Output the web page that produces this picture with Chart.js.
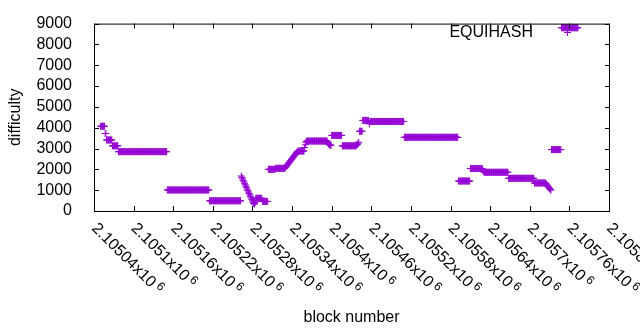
<!DOCTYPE html>
<html>
<head>
<meta charset="utf-8">
<script src="https://cdn.jsdelivr.net/npm/chart.js@4"></script>
<style>
  html, body { margin: 0; padding: 0; background: #fff; }
  canvas { display: block; }
</style>
</head>
<body>
<canvas id="chart" width="640" height="330"></canvas>
<script>
// stretches where difficulty stayed flat: first block, last block, difficulty
const plateauFrom = [2105050, 2105057, 2105059, 2105068, 2105077, 2105151, 2105215, 2105285, 2105295, 2105304, 2105315, 2105349, 2105362, 2105400, 2105416, 2105442, 2105447, 2105458, 2105510, 2105592, 2105610, 2105631, 2105668, 2105707, 2105733, 2105748];
const plateauTo   = [2105056, 2105058, 2105067, 2105076, 2105150, 2105214, 2105262, 2105294, 2105303, 2105314, 2105329, 2105358, 2105393, 2105415, 2105437, 2105446, 2105456, 2105509, 2105591, 2105609, 2105628, 2105667, 2105706, 2105724, 2105747, 2105773];
const plateauDifficulty = [4070, 3720, 3410, 3130, 2850, 1010, 490, 610, 460, 2000, 2050, 2880, 3360, 3630, 3130, 3830, 4350, 4300, 3540, 1440, 2040, 1860, 1570, 1345, 2950, 8800];

// stretches where difficulty moved block by block: first block, then one value per block
const slideStart = [2105263, 2105330, 2105359, 2105394, 2105438, 2105457, 2105629, 2105725];
const slideDifficulty = [
  [1680, 1610, 1540, 1470, 1400, 1330, 1260, 1190, 1120, 1050, 980, 910, 840, 770, 700, 630, 560, 490, 420, 360, 330, 400],
  [2100, 2140, 2180, 2220, 2260, 2310, 2350, 2390, 2430, 2470, 2510, 2550, 2600, 2640, 2680, 2720, 2760, 2810, 2850],
  [3050, 3180, 3300],
  [3280, 3230, 3200, 3170, 3160, 3160],
  [3180, 3200, 3260, 3300],
  [4180],
  [1950, 1900],
  [1300, 1250, 1200, 1160, 1120, 1080, 1040, 1000]
];

const xTickBlocks = [2105040, 2105100, 2105160, 2105220, 2105280, 2105340, 2105400, 2105460, 2105520, 2105580, 2105640, 2105700, 2105760, 2105820];
const yTickValues = [0, 1000, 2000, 3000, 4000, 5000, 6000, 7000, 8000, 9000];
const yTickLabels = ['0', '1000', '2000', '3000', '4000', '5000', '6000', '7000', '8000', '9000'];

const purple = '#9400d3';
const family = "'Liberation Sans', Arial, sans-serif";

const points = [];
plateauFrom.forEach((from, i) => {
  for (let b = from; b <= plateauTo[i]; b++) points.push({ x: b, y: plateauDifficulty[i] });
});
slideStart.forEach((start, i) => {
  slideDifficulty[i].forEach((d, k) => points.push({ x: start + k, y: d }));
});
points.sort((a, b) => a.x - b.x);

// gnuplot look: closed frame, inward mirrored ticks, slanted x labels, key on the right
const gnuplotFrame = {
  id: 'gnuplotFrame',
  afterDatasetsDraw(chart) {
    const { ctx, chartArea: a, scales: { x, y } } = chart;
    ctx.save();
    ctx.strokeStyle = '#000';
    ctx.lineWidth = 1;
    ctx.strokeRect(a.left + 0.5, a.top + 0.5, a.right - a.left, a.bottom - a.top);
    ctx.beginPath();
    yTickValues.forEach(v => {
      const py = Math.round(y.getPixelForValue(v)) + 0.5;
      ctx.moveTo(a.left, py); ctx.lineTo(a.left + 5, py);
      ctx.moveTo(a.right - 4, py); ctx.lineTo(a.right + 1, py);
    });
    xTickBlocks.forEach(v => {
      const px = Math.round(x.getPixelForValue(v)) + 0.5;
      ctx.moveTo(px, a.bottom); ctx.lineTo(px, a.bottom - 5);
      ctx.moveTo(px, a.top); ctx.lineTo(px, a.top + 5);
    });
    ctx.stroke();

    ctx.fillStyle = '#000';
    ctx.textBaseline = 'alphabetic';
    ctx.textAlign = 'left';
    xTickBlocks.forEach(v => {
      const px = x.getPixelForValue(v);
      const main = (v / 1e6) + 'x10';
      ctx.save();
      ctx.translate(px - 3, 229);
      ctx.rotate(Math.PI / 4);
      ctx.font = '16px ' + family;
      ctx.fillText(main, 0, 0);
      const w = ctx.measureText(main).width;
      ctx.font = '12px ' + family;
      ctx.fillText('6', w + 3, -5);
      ctx.restore();
    });

    ctx.font = '16px ' + family;
    ctx.textAlign = 'right';
    ctx.fillText(chart.data.datasets[0].label, 533, 37);
    ctx.strokeStyle = purple;
    ctx.beginPath();
    ctx.moveTo(564, 32.5); ctx.lineTo(571, 32.5);
    ctx.moveTo(567.5, 29); ctx.lineTo(567.5, 36);
    ctx.stroke();
    ctx.restore();
  }
};

new Chart(document.getElementById('chart'), {
  type: 'scatter',
  data: {
    datasets: [{
      label: 'EQUIHASH',
      data: points,
      pointStyle: 'cross',
      pointRadius: 3.5,
      pointHoverRadius: 3.5,
      pointBorderWidth: 1,
      borderColor: purple,
      backgroundColor: purple
    }]
  },
  options: {
    responsive: false,
    animation: false,
    devicePixelRatio: 1,
    layout: { padding: { top: 19, right: 31, left: 0, bottom: 0 } },
    plugins: { legend: { display: false }, tooltip: { enabled: false } },
    scales: {
      x: {
        type: 'linear',
        min: 2105040,
        max: 2105820,
        grid: { display: false },
        border: { display: false },
        ticks: { display: false },
        afterBuildTicks: s => { s.ticks = xTickBlocks.map(v => ({ value: v })); },
        afterFit: s => { s.height = 119; },
        title: { display: true, text: 'block number', color: '#000', font: { family, size: 16 }, padding: { top: 0, bottom: 3 } }
      },
      y: {
        min: 0,
        max: 9000,
        grid: { display: false },
        border: { display: false },
        afterBuildTicks: s => { s.ticks = yTickValues.map(v => ({ value: v })); },
        ticks: { color: '#000', font: { family, size: 16 }, padding: 14, autoSkip: false, callback: (v, i) => yTickLabels[i] },
        afterFit: s => { s.width = 94; },
        title: { display: true, text: 'difficulty', color: '#000', font: { family, size: 16 }, padding: { top: 6, bottom: 0 } }
      }
    }
  },
  plugins: [gnuplotFrame]
});
</script>
</body>
</html>
